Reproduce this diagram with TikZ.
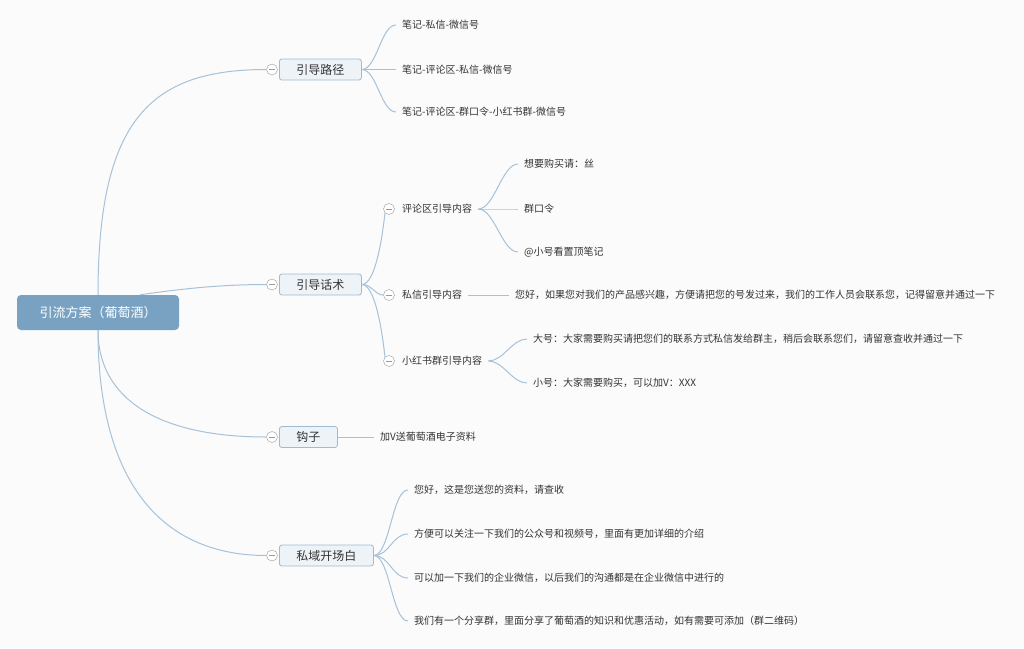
\documentclass[tikz,border=0pt]{standalone}
\usepackage{fontspec}
\setmainfont{Noto Sans CJK SC}
\usepackage{tikz}
\usetikzlibrary{positioning}
\definecolor{bg}{HTML}{FBFBFB}
\definecolor{rootblue}{HTML}{79A2C2}
\definecolor{topicfill}{HTML}{EEF3F8}
\definecolor{topicline}{HTML}{9DBBD3}
\definecolor{linkblue}{HTML}{A6C2D9}
\definecolor{txt}{HTML}{333333}
\definecolor{foldgray}{HTML}{9A9A9A}

\begin{document}
\begin{tikzpicture}[x=1pt, y=-1pt,
    root/.style = {rectangle, rounded corners=4pt, fill=rootblue, text=white,
      minimum width=162pt, minimum height=35pt, font=\fontsize{13}{15}\selectfont},
    topic/.style = {rectangle, rounded corners=2.5pt, fill=topicfill, draw=topicline,
      line width=0.8pt, text=txt, inner xsep=17pt, minimum height=21pt,
      anchor=west, font=\fontsize{12}{14}\selectfont},
    leaf/.style = {text=txt, inner xsep=6pt, inner ysep=2pt, anchor=west,
      font=\fontsize{10}{12}\selectfont},
    fold/.style = {circle, draw=foldgray, fill=white, minimum size=11pt, inner sep=0pt,
      path picture={\draw[foldgray] ([xshift=-3pt]path picture bounding box.center)
        -- ([xshift=3pt]path picture bounding box.center);}},
    link/.style = {draw=linkblue, line width=1pt}
    ]
    \useasboundingbox[fill=bg] (0,0) rectangle (1024,648);

    % root
    \node[root] (root) at (98,312.5) {引流方案（葡萄酒）};

    % main topics
    \node[topic] (t1) at (279,69.5) {引导路径};
    \node[topic] (t2) at (279,284.5) {引导话术};
    \node[topic] (t3) at (279,437) {钩子};
    \node[topic] (t4) at (279,555.5) {私域开场白};
    \node[fold] (c1) at (272,69.5) {};
    \node[fold] (c2) at (272,284.5) {};
    \node[fold] (c3) at (272,437) {};
    \node[fold] (c4) at (272,555.5) {};

    \draw[link] (root.north) .. controls (98,120) and (150,69.5) .. (c1.west);
    \draw[link] ([xshift=42pt]root.north) .. controls (180,289) and (220,284.5) .. (c2.west);
    \draw[link] (root.south) .. controls (98,400) and (160,437) .. (c3.west);
    \draw[link] (root.south) .. controls (98,480) and (160,555.5) .. (c4.west);

    % 引导路径
    \node[leaf] (a1) at (396,25) {笔记-私信-微信号};
    \node[leaf] (a2) at (396,69.5) {笔记-评论区-私信-微信号};
    \node[leaf] (a3) at (396,112) {笔记-评论区-群口令-小红书群-微信号};
    \foreach \n in {a1,a2,a3}
      \draw[link] (t1.east) .. controls +(15,0) and +(-15,0) .. (\n.west);

    % 引导话术
    \node[fold] (d1) at (389,209) {};
    \node[fold] (d2) at (389,295) {};
    \node[fold] (d3) at (389,361) {};
    \node[leaf] (b1) at (396,209) {评论区引导内容};
    \node[leaf] (b2) at (396,295) {私信引导内容};
    \node[leaf] (b3) at (396,361) {小红书群引导内容};
    \draw[link] (t2.east) .. controls (375,284.5) and (382,240) .. (d1.south west);
    \draw[link] (t2.east) .. controls (372,284.5) and (375,295) .. (d2.west);
    \draw[link] (t2.east) .. controls (375,284.5) and (382,330) .. (d3.north west);

    \node[leaf] (b1a) at (518,164) {想要购买请：丝};
    \node[leaf] (b1b) at (518,209) {群口令};
    \node[leaf] (b1c) at (518,252) {@小号看置顶笔记};
    \foreach \n in {b1a,b1b,b1c}
      \draw[link] (b1.east) .. controls +(16,0) and +(-16,0) .. (\n.west);

    \node[leaf] (b2a) at (509,295) {您好，如果您对我们的产品感兴趣，方便请把您的号发过来，我们的工作人员会联系您，记得留意并通过一下};
    \draw[link] (b2.east) -- (b2a.west);

    \node[leaf] (b3a) at (527,339) {大号：大家需要购买请把您们的联系方式私信发给群主，稍后会联系您们，请留意查收并通过一下};
    \node[leaf] (b3b) at (527,383) {小号：大家需要购买，可以加V：XXX};
    \foreach \n in {b3a,b3b}
      \draw[link] (b3.east) .. controls +(15,0) and +(-15,0) .. (\n.west);

    % 钩子
    \node[leaf] (g1) at (374,437) {加V送葡萄酒电子资料};
    \draw[link] (t3.east) -- (g1.west);

    % 私域开场白
    \node[leaf] (s1) at (408,490) {您好，这是您送您的资料，请查收};
    \node[leaf] (s2) at (408,534) {方便可以关注一下我们的公众号和视频号，里面有更加详细的介绍};
    \node[leaf] (s3) at (408,578) {可以加一下我们的企业微信，以后我们的沟通都是在企业微信中进行的};
    \node[leaf] (s4) at (408,621) {我们有一个分享群，里面分享了葡萄酒的知识和优惠活动，如有需要可添加（群二维码）};
    \foreach \n in {s1,s2,s3,s4}
      \draw[link] (t4.east) .. controls +(16,0) and +(-16,0) .. (\n.west);
\end{tikzpicture}
\end{document}
